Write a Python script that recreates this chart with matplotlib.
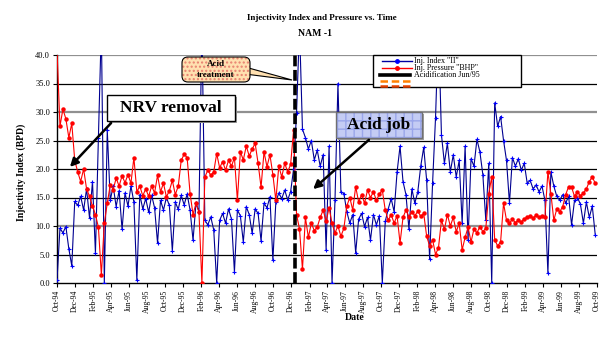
import numpy as np
import pandas as pd
import matplotlib
matplotlib.use('Agg')
import matplotlib.pyplot as plt
from matplotlib.patches import Rectangle, FancyBboxPatch, Polygon
from matplotlib.lines import Line2D

plt.rcParams['font.family'] = ['Liberation Serif', 'DejaVu Serif']

# readings every 10 days from Oct-94
dates = pd.date_range('1994-10-01', periods=183, freq='10D')

inj_index = [
    0.5, 9.6, 8.8, 9.9, 6.0, 3.0, 14.3, 13.6, 15.2, 12.8,
    16.5, 11.4, 17.8, 5.2, 25.5, 45, 0, 26.8, 14.5, 17.0,
    13.4, 16.2, 9.4, 15.8, 13.5, 17.0, 14.2, 0.5, 15.5, 13.0,
    14.8, 12.4, 15.4, 13.2, 7.0, 14.5, 12.8, 15.0, 13.6, 5.6,
    14.2, 12.9, 15.4, 13.7, 15.6, 12.8, 7.5, 14.0, 12.5, 45,
    11.0, 10.2, 11.6, 9.3, 0, 11.0, 12.2, 10.5, 13.0, 11.2,
    1.9, 12.8, 11.8, 7.2, 13.4, 12.0, 8.7, 13.0, 12.2, 7.4,
    14.0, 13.2, 15.1, 4.0, 14.2, 15.8, 14.8, 16.3, 14.6, 16.0,
    20.0, 29.8, 45, 27.0, 25.5, 23.5, 25.0, 21.6, 23.3, 20.5,
    22.5, 5.8, 24.0, 0, 14.5, 35.0, 16.0, 15.7, 12.5, 10.5,
    12.0, 5.3, 11.2, 12.2, 9.9, 11.5, 7.5, 12.0, 10.2, 11.8,
    0, 10.8, 13.0, 14.8, 12.5, 19.5, 24.0, 17.8, 15.5, 9.5,
    16.5, 14.0, 16.0, 20.5, 23.8, 18.0, 4.2, 17.5, 29.0, 45,
    26.0, 21.0, 24.5, 19.5, 22.5, 18.6, 21.5, 10.5, 24.0, 7.5,
    21.8, 20.5, 25.2, 23.0, 19.0, 11.0, 21.0, 0, 31.6, 27.5,
    29.2, 25.0, 21.5, 14.0, 22.0, 20.5, 21.8, 19.8, 21.0, 17.5,
    18.0, 16.5, 17.2, 16.0, 17.0, 14.5, 1.7, 19.5, 17.0, 15.2,
    14.5, 15.5, 14.0, 15.2, 10.2, 14.5, 15.0, 13.8, 10.5, 14.2,
    11.5, 13.5, 8.5]

inj_pressure = [
    41, 27.5, 30.5, 28.8, 25.5, 28.0, 21.5, 19.5, 17.8, 20.0,
    16.5, 15.2, 13.5, 12.0, 9.8, 1.4, 10.5, 14.0, 17.2, 16.4,
    18.4, 17.0, 18.8, 17.6, 19.0, 17.5, 22.0, 16.0, 17.0, 15.3,
    16.5, 15.2, 17.0, 15.8, 18.9, 16.0, 17.5, 15.1, 16.2, 18.0,
    15.5, 17.0, 21.5, 22.6, 22.0, 15.7, 12.0, 14.0, 12.5, 0,
    18.6, 19.8, 18.9, 19.5, 22.7, 20.2, 21.3, 19.8, 21.5, 20.5,
    22.0, 14.5, 23.0, 21.6, 24.0, 22.3, 23.5, 24.5, 21.0, 16.8,
    23.0, 20.4, 22.5, 19.0, 14.5, 20.5, 18.6, 21.0, 19.5, 20.8,
    26.8, 12.0, 9.5, 2.4, 11.5, 8.0, 10.5, 9.2, 9.8, 11.5,
    12.8, 10.8, 13.2, 10.5, 8.8, 10.0, 8.2, 9.6, 13.5, 15.0,
    12.8, 16.9, 14.2, 15.5, 14.0, 16.3, 15.0, 16.0, 14.5, 15.6,
    16.3, 12.8, 11.0, 12.0, 10.5, 11.8, 7.0, 11.5, 12.8, 11.6,
    12.5, 11.8, 12.6, 11.7, 12.2, 8.2, 6.5, 7.6, 5.0, 6.2,
    11.0, 9.4, 12.0, 10.0, 11.5, 9.0, 10.5, 5.8, 8.0, 9.8,
    7.2, 9.5, 8.8, 9.9, 9.0, 9.6, 15.7, 18.6, 7.6, 6.5,
    7.2, 14.0, 11.0, 10.5, 11.2, 10.6, 11.0, 10.7, 11.3, 11.5,
    11.8, 11.4, 11.9, 11.5, 11.8, 11.6, 19.5, 15.7, 11.0, 13.0,
    12.5, 13.4, 15.5, 16.9, 16.8, 15.2, 16.0, 15.3, 15.8, 16.5,
    17.8, 18.6, 17.5]

acid_date = pd.Timestamp('1996-12-13')
tick_dates = pd.date_range('1994-10-01', '1999-10-01', freq='2MS')
tick_labels = [d.strftime('%b-%y') for d in tick_dates]
legend_labels = ['Inj. Index "II"', 'Inj. Pressure "BHP"', 'Acidification Jun/95']

fig = plt.figure(figsize=(6, 3.41), dpi=100)
ax = fig.add_axes([57/600, 1-283/341, 540/600, 228/341])

# grid lines (excel style, some grey some black)
for yv in [10, 30, 40]:
    ax.axhline(yv, color='#909090', lw=1.6, zorder=1)
for yv in [5, 15, 20, 25, 35]:
    ax.axhline(yv, color='black', lw=0.9, zorder=1)

ax.plot(dates, inj_index, color='#000090', lw=0.8, marker='+', ms=3,
        mec='#0000ff', mew=0.8, zorder=3)
ax.plot(dates, inj_pressure, color='#ff0000', lw=0.8, marker='o', ms=2.2,
        mfc='#ff0000', mec='#ff0000', zorder=4)
ax.axvline(acid_date, color='black', lw=2.6, ls=(0, (3, 1)), zorder=5)

ax.set_ylim(0, 40)
ax.set_xlim(tick_dates[0], tick_dates[-1])
ax.set_yticks(np.arange(0, 41, 5))
ax.set_yticklabels(['%.1f' % v for v in np.arange(0, 41, 5)], fontsize=6)
ax.set_xticks(tick_dates)
ax.set_xticklabels(tick_labels, rotation=90, fontsize=5.5)
ax.tick_params(length=3, width=0.8, pad=2)
for s in ['top', 'right']:
    ax.spines[s].set_visible(False)
for s in ['left', 'bottom']:
    ax.spines[s].set_linewidth(1)

# overlay in pixel coordinates for texts and callouts
ov = fig.add_axes([0, 0, 1, 1], zorder=10)
ov.set_xlim(0, 600)
ov.set_ylim(341, 0)
ov.axis('off')

ov.text(322, 18, 'Injectivity Index and Pressure vs. Time', ha='center', va='center',
        fontsize=6.5, fontweight='bold')
ov.text(315, 33, 'NAM -1', ha='center', va='center', fontsize=7, fontweight='bold')
ov.text(21, 172, 'Injectivity Index (BPD)', rotation=90, ha='center', va='center',
        fontsize=7, fontweight='bold')
ov.text(355, 318, 'Date', ha='center', va='center', fontsize=7, fontweight='bold')

# legend
ov.add_patch(Rectangle((373, 55), 148, 32, fc='white', ec='black', lw=1))
ov.add_line(Line2D([382, 397, 412], [61, 61, 61], color='#0000a0', lw=1,
                   marker='o', ms=2.5, mfc='#0000ff', mec='#0000ff', markevery=[1]))
ov.add_line(Line2D([382, 397, 412], [68, 68, 68], color='#ff0000', lw=1,
                   marker='o', ms=2.5, mfc='#ff0000', mec='#ff0000', markevery=[1]))
ov.add_line(Line2D([380, 410], [75, 75], color='black', lw=2.6))
ov.add_line(Line2D([380, 410], [81, 81], color='#ff8000', lw=1.8, ls=(0, (3, 1.5))))
ov.add_line(Line2D([380, 410], [86, 86], color='#e04000', lw=1.8, ls=(0, (3, 1.5))))
for k, lab in enumerate(legend_labels):
    ov.text(414, 61 + 7*k, lab, ha='left', va='center', fontsize=5.8)

# "Acid treatment" callout
ov.add_patch(Polygon([(245, 67), (292, 80), (245, 74)], closed=True,
                     fc='#ffe0b0', ec='black', lw=0.8))
ov.add_patch(FancyBboxPatch((182, 57), 68, 25, boxstyle='round,pad=0,rounding_size=6',
                            fc='#ffe0b0', ec='#e88070', hatch='....', lw=0))
ov.add_patch(FancyBboxPatch((182, 57), 68, 25, boxstyle='round,pad=0,rounding_size=6',
                            fc='none', ec='black', lw=0.8))
ov.text(216, 64, 'Acid', ha='center', va='center', fontsize=6.5, fontweight='bold')
ov.text(216, 75, 'treatment', ha='center', va='center', fontsize=6.5, fontweight='bold')

# "NRV removal" box
ov.add_patch(Rectangle((109, 97), 128, 26, fc='#a0a0a0', ec='none'))
ov.add_patch(Rectangle((107, 95), 128, 26, fc='white', ec='black', lw=1))
ov.text(171, 108, 'NRV removal', ha='center', va='center', fontsize=12.5, fontweight='bold')
ov.annotate('', xy=(68, 169), xytext=(113, 121),
            arrowprops=dict(arrowstyle='-|>', color='black', lw=1.8, mutation_scale=12))

# "Acid job" box
ov.add_patch(Rectangle((338, 114), 86, 26, fc='#a0a0a0', ec='none'))
ov.add_patch(Rectangle((336, 112), 86, 26, fc='#c4ccf4', ec='#9aa6ea', hatch='++', lw=0))
ov.add_patch(Rectangle((336, 112), 86, 26, fc='none', ec='#707070', lw=1))
ov.text(379, 125, 'Acid job', ha='center', va='center', fontsize=12.5, fontweight='bold')
ov.annotate('', xy=(311, 191), xytext=(371, 138),
            arrowprops=dict(arrowstyle='-|>', color='black', lw=1.8, mutation_scale=12))

fig.savefig('out.png', dpi=100)
